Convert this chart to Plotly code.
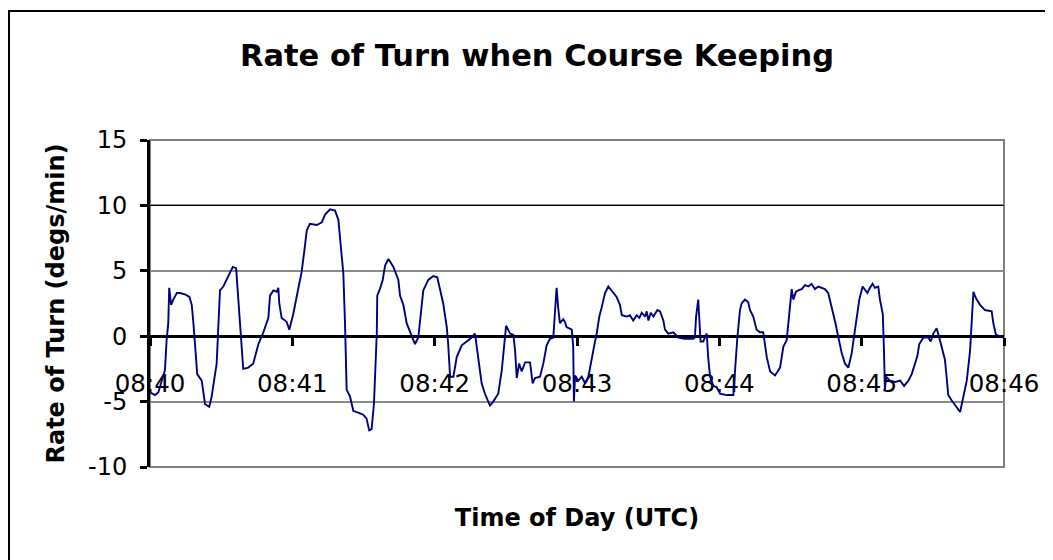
import plotly.graph_objects as go

# Seconds after 08:40:00 UTC and rate of turn (degs/min)
time_s = [0, 2.1, 3.5, 4.9, 6.3, 7.0, 7.7, 8.1, 8.9, 9.8, 11.3, 12.6, 14.8, 16.6, 17.6, 18.3, 19.0, 19.9,
          21.8, 23.2, 25.0, 26.0, 28.1, 28.8, 29.5, 30.9, 32.6, 34.9, 36.3, 37.2, 37.9, 39.3, 41.4, 43.5,
          45.7, 47.8, 49.9, 50.6, 52.0, 53.4, 54.1, 54.5, 55.5, 57.6, 58.7, 60.4, 61.8, 63.9, 64.9, 66.1,
          67.4, 70.3, 72.4, 73.8, 75.9, 78.0, 79.4, 80.1, 81.5, 82.2, 82.9, 84.3, 85.7, 88.5, 89.9, 91.3,
          92.4, 93.4, 94.4, 95.6, 95.8, 96.9, 98.1, 99.1, 100.5, 102.6, 104.7, 105.4, 106.8, 108.2, 109.6,
          111.7, 113.1, 114.5, 115.2, 117.3, 119.4, 121.1, 122.2, 123.6, 125.1, 125.7, 126.5, 127.9, 129.3,
          131.4, 133.5, 135.6, 137.0, 138.4, 139.8, 141.2, 143.3, 144.7, 146.8, 148.3, 149.2, 150.1, 151.8,
          153.2, 153.9, 154.6, 155.6, 156.7, 158.1, 160.2, 161.3, 162.3, 164.4, 165.8, 167.2, 168.6, 170.0,
          170.7, 171.4, 172.1, 172.8, 174.2, 174.9, 175.6, 177.8, 178.4, 178.7, 179.2, 180.5, 182.0, 183.4,
          184.8, 186.2, 187.6, 188.3, 189.4, 190.4, 191.8, 193.2, 194.6, 196.7, 198.1, 198.9, 201.0, 202.3,
          203.7, 205.2, 206.3, 207.3, 208.7, 209.4, 210.1, 211.1, 212.2, 213.9, 215.0, 216.4, 217.1, 218.5,
          220.6, 222.7, 225.5, 229.0, 229.7, 230.2, 231.1, 231.6, 232.1, 233.2, 234.7, 235.3, 236.1, 237.5,
          238.9, 240.3, 243.1, 245.9, 246.6, 247.6, 248.7, 249.4, 250.8, 252.2, 252.9, 254.3, 255.7, 257.1,
          258.5, 259.2, 260.0, 261.4, 263.5, 265.6, 267.0, 268.4, 269.5, 270.5, 271.2, 272.3, 273.3, 274.7,
          276.1, 277.5, 278.9, 280.3, 281.7, 284.5, 285.9, 287.4, 288.8, 290.2, 291.6, 293.0, 294.4, 295.8,
          297.2, 299.0, 300.4, 301.4, 302.4, 303.5, 304.6, 305.6, 307.0, 307.7, 308.9, 309.4, 309.8, 310.3,
          311.9, 314.1, 316.2, 317.9, 319.7, 321.1, 322.5, 323.5, 324.3, 326.0, 328.1, 329.1, 330.2, 331.6,
          332.7, 333.7, 335.1, 335.8, 336.5, 337.9, 339.4, 341.5, 342.9, 344.3, 345.7, 346.4, 347.1, 348.2,
          349.9, 352.0, 354.8, 355.5, 356.6, 358.3, 359.7]

rate = [-4.3, -4.5, -4.3, -3.4, -2.6, -0.3, 1.0, 3.7, 2.4, 2.8, 3.3, 3.3, 3.2, 3.0, 2.4, 1.0, -0.8, -2.9,
        -3.4, -5.2, -5.4, -4.6, -2.1, 0.5, 3.5, 3.8, 4.4, 5.3, 5.2, 2.8, 0.5, -2.5, -2.4, -2.1,
        -0.6, 0.3, 1.4, 3.1, 3.5, 3.4, 3.7, 2.5, 1.4, 1.1, 0.5, 1.7, 3.0, 4.9, 6.3, 8.1,
        8.6, 8.5, 8.7, 9.3, 9.7, 9.6, 8.9, 7.3, 4.8, 1.0, -4.1, -4.6, -5.7, -5.9, -6.0, -6.3,
        -7.2, -7.1, -5.2, 0.2, 3.1, 3.6, 4.3, 5.4, 5.9, 5.3, 4.3, 3.1, 2.4, 1.0, 0.3,
        -0.6, -0.1, 2.0, 3.5, 4.3, 4.6, 4.5, 3.5, 2.5, 0.7, -0.6, -3.1, -3.1, -1.6,
        -0.7, -0.4, -0.1, 0.2, -1.6, -3.6, -4.4, -5.3, -5.0, -4.4, -2.6, -0.8, 0.8, 0.2,
        0.1, -1.1, -3.2, -2.1, -2.7, -2.0, -2.0, -3.6, -3.2, -3.1, -2.1, -0.7, -0.2, -0.1,
        2.2, 3.7, 2.1, 1.0, 1.3, 1.1, 0.7, 0.5, -0.8, -5.0, -3.0, -3.4, -3.1, -3.6,
        -3.1, -1.6, -0.4, 0.2, 1.5, 2.2, 3.3, 3.8, 3.5, 3.0, 2.4, 1.6, 1.5, 1.6,
        1.2, 1.6, 1.4, 1.8, 1.5, 1.9, 1.2, 1.8, 1.5, 2.0, 1.9, 1.2, 0.5, 0.2,
        0.3, -0.1, -0.2, -0.2, -0.1, 1.5, 2.8, 1.5, -0.4, -0.4, 0.2, -1.6, -3.1, -3.8,
        -3.9, -4.4, -4.5, -4.5, -2.4, -0.1, 2.0, 2.5, 2.8, 2.6, 2.0, 1.5, 0.5, 0.3,
        0.3, -0.6, -1.6, -2.7, -3.0, -2.4, -0.8, -0.3, 1.7, 3.6, 2.8, 3.4, 3.5, 3.6,
        3.9, 3.8, 4.0, 3.6, 3.8, 3.6, 3.3, 2.2, 1.1, -0.1, -1.3, -2.1, -2.4, -1.3,
        0.5, 2.8, 3.8, 3.5, 3.3, 3.7, 4.0, 3.7, 3.8, 2.8, 1.7, -1.1, -4.1, -3.1,
        -3.4, -3.5, -3.4, -3.8, -3.4, -2.9, -2.1, -1.5, -0.6, -0.1, -0.1, -0.4, 0.2, 0.6,
        -0.1, -0.8, -1.8, -3.1, -4.5, -4.9, -5.3, -5.8, -4.6, -3.4, -1.1, 1.0, 3.4, 2.9,
        2.4, 2.0, 1.9, 1.0, 0.1, 0.0, -0.1]

x_tick_seconds = [0, 60, 120, 180, 240, 300, 360]
x_tick_labels = ["08:40", "08:41", "08:42", "08:43", "08:44", "08:45", "08:46"]
y_tick_values = [-10, -5, 0, 5, 10, 15]
y_tick_labels = ["-10", "-5", "0", "5", "10", "15"]
y_black_grid = [10]

FONT = "DejaVu Sans"

fig = go.Figure()
# empty helper trace so the overlaid axis (black gridline at 10) is drawn
fig.add_trace(go.Scatter(x=[None], y=[None], yaxis="y2", mode="lines",
                         showlegend=False, hoverinfo="skip"))
fig.add_trace(go.Scatter(
    x=time_s, y=rate, mode="lines",
    line=dict(color="#000080", width=1.9),
    showlegend=False, hoverinfo="skip",
))

fig.update_layout(
    width=1053, height=560,
    margin=dict(l=142, r=57, t=132, b=101, autoexpand=False),
    paper_bgcolor="white", plot_bgcolor="white",
    font=dict(family=FONT, color="black"),
    title=dict(
        text="Rate of Turn when Course Keeping",
        font=dict(family=FONT, size=30.5, color="black", weight="bold"),
        xref="container", x=529 / 1053, xanchor="center",
        yref="container", y=1 - 47 / 560, yanchor="middle",
    ),
    xaxis=dict(
        range=[0, 360], anchor="free", position=0.4,
        tickmode="array", tickvals=x_tick_seconds, ticktext=x_tick_labels,
        ticks="outside", ticklen=8, tickwidth=3, tickcolor="black",
        showline=True, linecolor="black", linewidth=3,
        showgrid=False, zeroline=False,
        tickfont=dict(family=FONT, size=24.5, color="black"),
        ticklabelstandoff=16,
        layer="below traces",
        title=dict(text="Time of Day (UTC)",
                   font=dict(family=FONT, size=24, color="black", weight="bold"),
                   standoff=112),
        automargin=False,
    ),
    yaxis=dict(
        range=[-10, 15], tickmode="array", tickvals=y_tick_values, ticktext=y_tick_labels,
        ticks="outside", ticklen=7, tickwidth=3, tickcolor="black",
        showline=True, linecolor="black", linewidth=3,
        showgrid=True, gridcolor="#8a8a8a", gridwidth=1.5,
        zeroline=True, zerolinecolor="black", zerolinewidth=3,
        tickfont=dict(family=FONT, size=24, color="black"),
        ticklabelstandoff=8,
        layer="below traces",
        title=dict(text="Rate of Turn (degs/min)",
                   font=dict(family=FONT, size=24, color="black", weight="bold"),
                   standoff=17),
        automargin=False,
    ),
    yaxis2=dict(
        range=[-10, 15], overlaying="y", side="left", tickmode="array", tickvals=y_black_grid,
        showgrid=True, gridcolor="black", gridwidth=1,
        showticklabels=False, ticks="", showline=False, zeroline=False,
        layer="below traces",
    ),
    shapes=[
        dict(type="rect", xref="paper", yref="paper", x0=0, x1=1, y0=0, y1=1,
             line=dict(color="#808080", width=2), fillcolor="rgba(0,0,0,0)", layer="below"),
        dict(type="rect", xref="paper", yref="paper", x0=-0.1651, x1=1.1, y0=-0.4, y1=1.3945,
             line=dict(color="black", width=2), fillcolor="rgba(0,0,0,0)", layer="below"),
    ],
)

fig.write_html("out.html")
